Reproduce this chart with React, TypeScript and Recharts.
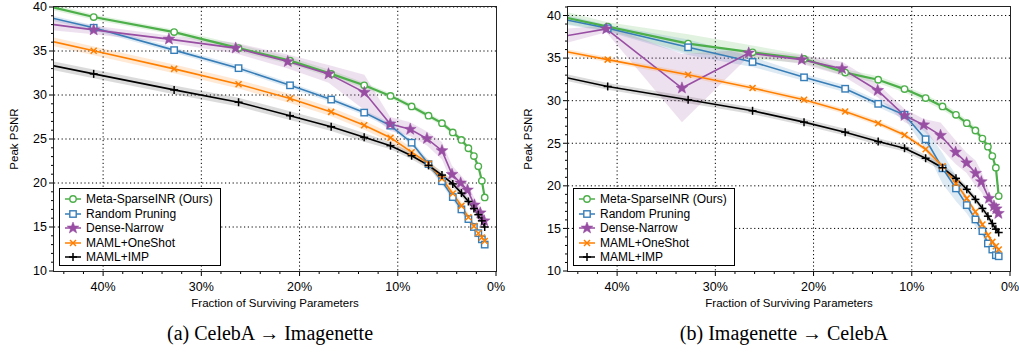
import React from 'react';
import { ComposedChart, Line, Area, XAxis, YAxis, CartesianGrid } from 'recharts';

// fraction of surviving parameters (%), one entry per pruning round
const ratios = [51.2, 40.96, 32.77, 26.21, 20.97, 16.78, 13.42, 10.74, 8.59, 6.87, 5.5, 4.4, 3.52, 2.81, 2.25, 1.8, 1.44, 1.15];
// dense-narrow nets do not land on exactly the same fractions
const denseRatiosA = [51.2, 40.96, 33.3, 26.5, 21.2, 17.05, 13.4, 10.77, 8.73, 7.03, 5.5, 4.48, 3.6, 2.9, 2.2, 1.6, 1.2];
const denseRatiosB = [51.2, 41.1, 33.4, 26.6, 21.2, 17.1, 13.47, 10.74, 8.78, 7.07, 5.54, 4.42, 3.5, 2.92, 2.14, 1.63, 1.4, 1.18];

// (a) CelebA -> Imagenette
const metaA = [41.6, 38.86, 37.15, 35.33, 33.9, 32.4, 31.1, 29.9, 28.7, 27.65, 26.8, 25.75, 24.9, 23.95, 23.06, 21.9, 20.25, 18.36];
const metaStdA = [0.4, 0.3, 0.3, 0.4, 0.4, 0.4, 0.3, 0.3, 0.3, 0.3, 0.3, 0.3, 0.3, 0.3, 0.3, 0.3, 0.3, 0.3];
const randomA = [40.3, 37.64, 35.1, 33.05, 31.1, 29.48, 28.0, 26.52, 24.58, 22.15, 20.2, 18.4, 17.0, 15.9, 15.0, 14.3, 13.6, 13.0];
const randomStdA = [0.3, 0.3, 0.3, 0.3, 0.3, 0.3, 0.3, 0.3, 0.3, 0.4, 0.4, 0.4, 0.4, 0.4, 0.4, 0.4, 0.4, 0.4];
const denseA = [38.9, 37.4, 36.35, 35.33, 33.8, 32.4, 30.3, 26.7, 26.1, 25.05, 23.67, 20.98, 20.0, 19.2, 17.5, 16.6, 15.7];
const denseStdA = [0.9, 0.5, 0.4, 0.6, 0.8, 1.0, 2.0, 0.8, 0.8, 0.8, 1.0, 1.0, 0.9, 0.8, 0.8, 0.7, 0.6];
const oneShotA = [37.6, 35.02, 32.97, 31.23, 29.6, 28.08, 26.56, 25.15, 23.5, 22.2, 20.5, 18.8, 17.4, 16.1, 15.1, 14.3, 13.8, 13.4];
const oneShotStdA = [0.5, 0.5, 0.5, 0.5, 0.5, 0.5, 0.5, 0.5, 0.5, 0.5, 0.5, 0.5, 0.4, 0.4, 0.4, 0.4, 0.4, 0.4];
const impA = [34.7, 32.4, 30.58, 29.18, 27.65, 26.4, 25.19, 24.24, 23.1, 22.0, 20.9, 19.9, 18.85, 17.9, 17.1, 16.4, 15.7, 15.0];
const impStdA = [0.5, 0.5, 0.5, 0.5, 0.5, 0.5, 0.5, 0.4, 0.4, 0.4, 0.4, 0.4, 0.4, 0.4, 0.4, 0.4, 0.4, 0.4];

// (b) Imagenette -> CelebA
const metaB = [41.2, 38.7, 36.7, 35.68, 34.9, 33.3, 32.46, 31.36, 30.3, 29.32, 28.34, 27.36, 26.5, 25.55, 24.6, 23.5, 22.13, 18.8];
const metaStdB = [1.0, 0.5, 1.1, 0.8, 0.5, 0.4, 0.4, 0.4, 0.4, 0.4, 0.4, 0.4, 0.4, 0.4, 0.4, 0.4, 0.4, 0.4];
const randomB = [40.9, 38.5, 36.27, 34.55, 32.74, 31.4, 29.63, 28.34, 25.47, 22.06, 19.7, 17.74, 16.05, 14.68, 13.23, 12.52, 11.85, 11.73];
const randomStdB = [0.8, 0.4, 0.9, 0.6, 0.4, 0.4, 0.4, 0.5, 1.2, 1.8, 1.5, 1.0, 0.8, 0.6, 0.5, 0.4, 0.4, 0.4];
const denseB = [36.4, 38.43, 31.48, 35.6, 34.82, 33.76, 31.2, 28.26, 27.16, 25.93, 23.95, 22.7, 21.47, 20.48, 18.53, 17.62, 17.3, 16.76];
const denseStdB = [1.5, 0.4, 4.0, 0.4, 0.5, 0.8, 0.8, 0.8, 0.7, 1.5, 1.4, 1.2, 1.5, 1.2, 0.9, 0.7, 0.6, 0.5];
const oneShotB = [37.1, 34.82, 33.05, 31.48, 30.1, 28.73, 27.36, 25.98, 24.3, 22.3, 20.29, 18.53, 16.95, 15.47, 14.2, 13.42, 12.9, 12.52];
const oneShotStdB = [0.3, 0.3, 0.3, 0.3, 0.3, 0.3, 0.3, 0.3, 0.3, 0.3, 0.3, 0.3, 0.3, 0.3, 0.3, 0.3, 0.3, 0.3];
const impB = [34.2, 31.67, 30.1, 28.81, 27.48, 26.3, 25.2, 24.42, 23.24, 22.13, 20.88, 19.59, 18.41, 17.35, 16.44, 15.58, 14.91, 14.52];
const impStdB = [0.4, 0.4, 0.4, 0.4, 0.4, 0.4, 0.4, 0.4, 0.4, 0.4, 0.4, 0.4, 0.4, 0.4, 0.4, 0.4, 0.4, 0.4];

const seriesNames = ['Meta-SparseINR (Ours)', 'Random Pruning', 'Dense-Narrow', 'MAML+OneShot', 'MAML+IMP'];
const seriesColors = ['#4daf4a', '#377eb8', '#984ea3', '#ff7f00', '#000000'];
const seriesMarkers = ['circle', 'square', 'star', 'x', 'plus'];

const xTicks = [0, 2, 4, 6, 8, 10, 12, 14, 16, 18, 20, 22, 24, 26, 28, 30, 32, 34, 36, 38, 40, 42, 44];
const xGrid = [10, 20, 30, 40];
const yGrid = [15, 20, 25, 30, 35, 40];

const FONT = '"Liberation Sans", Arial, Helvetica, sans-serif';

const toRows = (xs: number[], ys: number[], sd: number[]) =>
  xs.map((x, i) => ({ x, y: ys[i], band: [ys[i] - sd[i], ys[i] + sd[i]] }));

const panelA = [
  toRows(ratios, metaA, metaStdA),
  toRows(ratios, randomA, randomStdA),
  toRows(denseRatiosA, denseA, denseStdA),
  toRows(ratios, oneShotA, oneShotStdA),
  toRows(ratios, impA, impStdA),
];
const panelB = [
  toRows(ratios, metaB, metaStdB),
  toRows(ratios, randomB, randomStdB),
  toRows(denseRatiosB, denseB, denseStdB),
  toRows(ratios, oneShotB, oneShotStdB),
  toRows(ratios, impB, impStdB),
];

function starPoints(cx: number, cy: number, R: number, r: number) {
  const pts: string[] = [];
  for (let i = 0; i < 10; i++) {
    const rad = i % 2 === 0 ? R : r;
    const a = -Math.PI / 2 + (i * Math.PI) / 5;
    pts.push(`${cx + rad * Math.cos(a)},${cy + rad * Math.sin(a)}`);
  }
  return pts.join(' ');
}

const MarkerShape = ({ kind, cx, cy, color }: { kind: string; cx: number; cy: number; color: string }) => {
  if (cx == null || cy == null) return null;
  switch (kind) {
    case 'circle':
      return <circle cx={cx} cy={cy} r={3.2} fill="#fff" stroke={color} strokeWidth={1.4} />;
    case 'square':
      return <rect x={cx - 3.2} y={cy - 3.2} width={6.4} height={6.4} fill="#fff" stroke={color} strokeWidth={1.4} />;
    case 'star':
      return <polygon points={starPoints(cx, cy, 6.2, 2.6)} fill={color} stroke={color} strokeWidth={0.5} />;
    case 'x':
      return (
        <g stroke={color} strokeWidth={1.5}>
          <line x1={cx - 3} y1={cy - 3} x2={cx + 3} y2={cy + 3} />
          <line x1={cx - 3} y1={cy + 3} x2={cx + 3} y2={cy - 3} />
        </g>
      );
    default:
      return (
        <g stroke={color} strokeWidth={1.5}>
          <line x1={cx - 4} y1={cy} x2={cx + 4} y2={cy} />
          <line x1={cx} y1={cy - 4} x2={cx} y2={cy + 4} />
        </g>
      );
  }
};

const YTick = (props: any) => {
  const { x, y, payload } = props;
  const major = payload.value % 5 === 0;
  return (
    <g>
      <line x1={x - (major ? 5 : 3)} x2={x} y1={y} y2={y} stroke="#000" strokeWidth={1} />
      {major && (
        <text x={x - 7} y={y} dy={4.4} textAnchor="end" fontSize={12.5} fontFamily={FONT} fill="#000">
          {payload.value}
        </text>
      )}
    </g>
  );
};

const XTick = (props: any) => {
  const { x, y, payload } = props;
  const major = payload.value % 10 === 0;
  return (
    <g>
      <line x1={x} x2={x} y1={y} y2={y + (major ? 5 : 3)} stroke="#000" strokeWidth={1} />
      {major && (
        <text x={x} y={y} dy={20} textAnchor="middle" fontSize={12.5} fontFamily={FONT} fill="#000">
          {payload.value + '%'}
        </text>
      )}
    </g>
  );
};

const LegendBox = ({ left }: { left: number }) => (
  <div
    style={{
      position: 'absolute', left, top: 188, width: 162, height: 78, boxSizing: 'border-box',
      border: '1px solid #000', background: '#fff', fontFamily: FONT, fontSize: 12, padding: '3px 0 0 4px',
    }}
  >
    {seriesNames.map((name, i) => (
      <div key={name} style={{ display: 'flex', alignItems: 'center', height: 14.5, whiteSpace: 'nowrap' }}>
        <svg width={18} height={12} style={{ marginRight: 4, flex: 'none' }}>
          <line x1={1} x2={17} y1={6} y2={6} stroke={seriesColors[i]} strokeWidth={1.5} />
          <MarkerShape kind={seriesMarkers[i]} cx={9} cy={6} color={seriesColors[i]} />
        </svg>
        <span>{name}</span>
      </div>
    ))}
  </div>
);

const Panel = ({ left, width, rows, yMax, yTicks, caption }: any) => {
  const rightMargin = width - 54 - 442;
  return (
    <div style={{ position: 'absolute', left, top: 0, width, height: 360 }}>
      <ComposedChart width={width} height={300} margin={{ top: 7, right: rightMargin, bottom: 0, left: 0 }}>
        <CartesianGrid
          stroke="#000"
          strokeWidth={1}
          strokeDasharray="1.2 2.6"
          horizontalValues={yGrid}
          verticalValues={xGrid}
        />
        <XAxis
          type="number"
          dataKey="x"
          domain={[0, 45]}
          reversed
          allowDataOverflow
          ticks={xTicks}
          interval={0}
          height={29}
          tickSize={0}
          tickMargin={0}
          tickLine={false}
          axisLine={false}
          tick={<XTick />}
        />
        <YAxis
          type="number"
          domain={[10, yMax]}
          allowDataOverflow
          ticks={yTicks}
          interval={0}
          width={54}
          tickSize={0}
          tickMargin={0}
          tickLine={false}
          axisLine={false}
          tick={<YTick />}
        />
        {rows.map((data: any[], i: number) => (
          <Area
            key={'band' + i}
            data={data}
            dataKey="band"
            type="linear"
            stroke="none"
            fill={seriesColors[i]}
            fillOpacity={i === 4 ? 0.14 : 0.17}
            dot={false}
            activeDot={false}
            isAnimationActive={false}
          />
        ))}
        {rows.map((data: any[], i: number) => (
          <Line
            key={'line' + i}
            data={data}
            dataKey="y"
            type="linear"
            stroke={seriesColors[i]}
            strokeWidth={i === 0 ? 2.2 : 1.6}
            dot={(p: any) => (
              <MarkerShape key={'d' + i + '-' + p.index} kind={seriesMarkers[i]} cx={p.cx} cy={p.cy} color={seriesColors[i]} />
            )}
            activeDot={false}
            isAnimationActive={false}
          />
        ))}
      </ComposedChart>
      {/* frame round the plot area */}
      <div
        style={{
          position: 'absolute', left: 53.4, top: 6.4, width: 443.2, height: 265.2,
          boxSizing: 'border-box', border: '1.3px solid #222', pointerEvents: 'none',
        }}
      />
      <LegendBox left={59} />
      <div
        style={{
          position: 'absolute', left: 14, top: 139, transform: 'translate(-50%, -50%) rotate(-90deg)',
          fontFamily: FONT, fontSize: 11.5, whiteSpace: 'nowrap',
        }}
      >
        Peak PSNR
      </div>
      <div
        style={{
          position: 'absolute', left: 275, top: 303, transform: 'translate(-50%, -50%)',
          fontFamily: FONT, fontSize: 11.5, whiteSpace: 'nowrap',
        }}
      >
        Fraction of Surviving Parameters
      </div>
      <div
        style={{
          position: 'absolute', left: 270, top: 333, transform: 'translate(-50%, -50%)',
          fontFamily: '"Liberation Serif", "Times New Roman", serif', fontSize: 20, whiteSpace: 'nowrap',
        }}
      >
        {caption}
      </div>
    </div>
  );
};

const yTicksA = [10, 11, 12, 13, 14, 15, 16, 17, 18, 19, 20, 21, 22, 23, 24, 25, 26, 27, 28, 29, 30, 31, 32, 33, 34, 35, 36, 37, 38, 39, 40];
const yTicksB = [10, 11, 12, 13, 14, 15, 16, 17, 18, 19, 20, 21, 22, 23, 24, 25, 26, 27, 28, 29, 30, 31, 32, 33, 34, 35, 36, 37, 38, 39, 40, 41];

export default function App() {
  return (
    <div style={{ position: 'absolute', left: 0, top: 0, width: 1019, height: 360, background: '#fff', overflow: 'hidden' }}>
      <Panel left={0} width={520} rows={panelA} yMax={40} yTicks={yTicksA} caption="(a) CelebA → Imagenette" />
      <Panel left={514} width={505} rows={panelB} yMax={41} yTicks={yTicksB} caption="(b) Imagenette → CelebA" />
    </div>
  );
}
